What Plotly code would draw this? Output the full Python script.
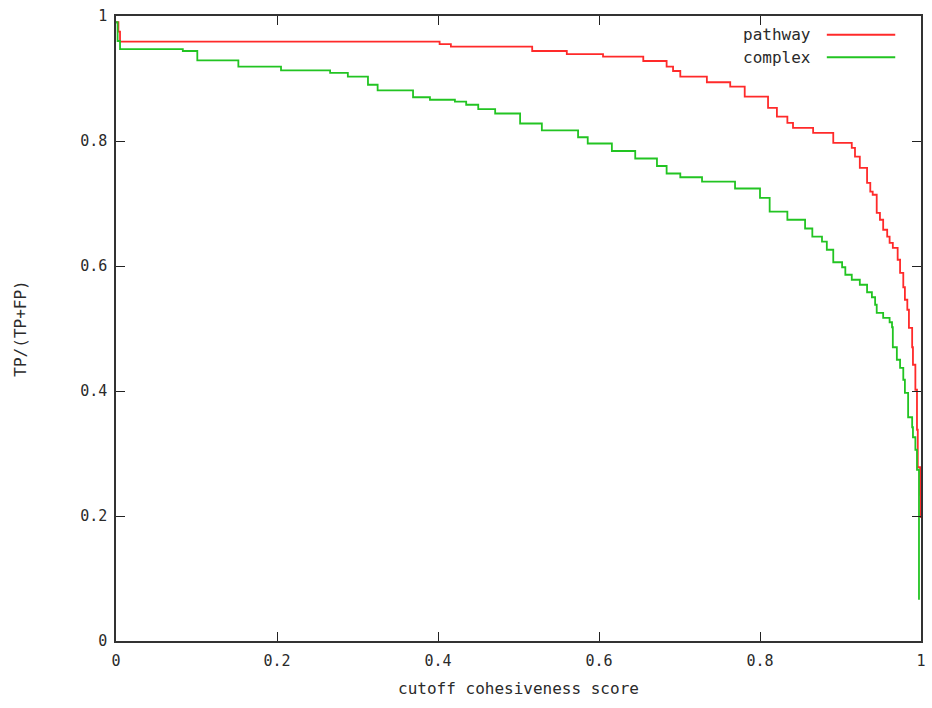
import plotly.graph_objects as go

# ---- data ----
pathway_x = [0.0, 0.003, 0.005, 0.402, 0.416, 0.517, 0.560, 0.605, 0.655, 0.684, 0.692,
             0.701, 0.734, 0.763, 0.781, 0.810, 0.821, 0.834, 0.841, 0.866, 0.891, 0.914,
             0.918, 0.924, 0.933, 0.937, 0.940, 0.945, 0.949, 0.953, 0.958, 0.961, 0.965,
             0.971, 0.974, 0.978, 0.980, 0.983, 0.985, 0.989, 0.990, 0.993, 0.995, 0.996,
             0.999, 0.9995]
pathway_y = [0.990, 0.975, 0.959, 0.955, 0.951, 0.944, 0.939, 0.935, 0.928, 0.919, 0.912,
             0.903, 0.894, 0.887, 0.871, 0.853, 0.839, 0.829, 0.821, 0.813, 0.797, 0.789,
             0.775, 0.757, 0.733, 0.719, 0.714, 0.685, 0.674, 0.658, 0.647, 0.637, 0.629,
             0.610, 0.589, 0.566, 0.546, 0.530, 0.501, 0.470, 0.442, 0.402, 0.338, 0.278,
             0.234, 0.197]

complex_x = [0.0, 0.002, 0.005, 0.083, 0.101, 0.152, 0.205, 0.266, 0.288, 0.313, 0.325,
             0.369, 0.390, 0.421, 0.435, 0.450, 0.471, 0.502, 0.529, 0.574, 0.586, 0.616,
             0.645, 0.672, 0.684, 0.701, 0.728, 0.769, 0.800, 0.812, 0.834, 0.856, 0.865,
             0.877, 0.883, 0.891, 0.902, 0.906, 0.914, 0.924, 0.933, 0.939, 0.943, 0.945,
             0.953, 0.961, 0.964, 0.965, 0.970, 0.974, 0.978, 0.980, 0.984, 0.989, 0.990,
             0.993, 0.995, 0.9975]
complex_y = [0.990, 0.960, 0.947, 0.944, 0.929, 0.919, 0.913, 0.909, 0.903, 0.890, 0.881,
             0.870, 0.866, 0.863, 0.858, 0.851, 0.844, 0.828, 0.817, 0.806, 0.796, 0.784,
             0.772, 0.760, 0.748, 0.742, 0.735, 0.724, 0.709, 0.687, 0.674, 0.660, 0.647,
             0.639, 0.626, 0.606, 0.598, 0.586, 0.578, 0.570, 0.558, 0.550, 0.538, 0.525,
             0.517, 0.510, 0.502, 0.470, 0.450, 0.437, 0.418, 0.397, 0.358, 0.342, 0.326,
             0.306, 0.274, 0.066]

tick_vals = [0, 0.2, 0.4, 0.6, 0.8, 1]
tick_text = ["0", "0.2", "0.4", "0.6", "0.8", "1"]

series = [("pathway", pathway_x, pathway_y, "#ff2a2a"),
          ("complex", complex_x, complex_y, "#22c422")]

FONT = "DejaVu Sans Mono"
TXT = "#2a2a2a"

fig = go.Figure()
for name, xs, ys, col in series:
    fig.add_trace(go.Scatter(x=xs, y=ys, mode="lines", name=name,
                             line=dict(color=col, width=1.8, shape="hv"),
                             showlegend=False))

# gnuplot-style key: text right-aligned, line sample to its right
key_y = [0.970, 0.934]
for (name, xs, ys, col), ky in zip(series, key_y):
    fig.add_annotation(xref="paper", yref="paper", x=0.866, y=ky, text=name,
                       showarrow=False, xanchor="right", yanchor="middle",
                       font=dict(family=FONT, size=16, color=TXT))
    fig.add_shape(type="line", xref="paper", yref="paper", x0=0.883, x1=0.968,
                  y0=ky, y1=ky, line=dict(color=col, width=1.8))

axis_common = dict(range=[0, 1], tickvals=tick_vals, ticktext=tick_text,
                   ticks="inside", ticklen=9, tickcolor="#222", tickwidth=1,
                   showline=True, linecolor="#333", linewidth=1.5, mirror="ticks",
                   showgrid=False, zeroline=False, automargin=False,
                   tickfont=dict(family=FONT, size=15, color=TXT))

fig.update_layout(
    width=932, height=708,
    margin=dict(l=116, r=11, t=16, b=67),
    paper_bgcolor="white", plot_bgcolor="white",
    xaxis=dict(**axis_common, ticklabelstandoff=5,
               title=dict(text="cutoff cohesiveness score", standoff=14,
                          font=dict(family=FONT, size=16, color=TXT))),
    yaxis=dict(**axis_common, ticklabelstandoff=4,
               title=dict(text="TP/(TP+FP)", standoff=50,
                          font=dict(family=FONT, size=16, color=TXT))),
)

fig.write_html("out.html", config={"displayModeBar": False},
               post_script="document.body.style.margin='0';")
